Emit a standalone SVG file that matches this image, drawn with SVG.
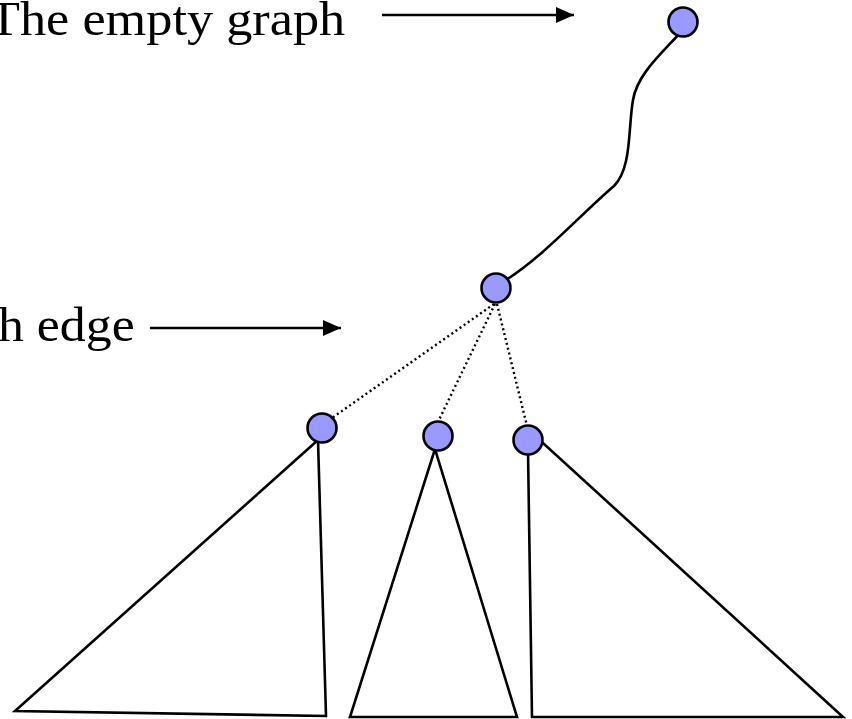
<svg xmlns="http://www.w3.org/2000/svg" width="852" height="719" viewBox="0 0 852 719">
<style>
.lbl{font-family:"Liberation Serif","Times New Roman",serif;font-size:48px;fill:#000}
.edge{fill:none;stroke:#000;stroke-width:2.6}
.dot{fill:none;stroke:#000;stroke-width:2.4;stroke-dasharray:2 3}
.tri{fill:none;stroke:#000;stroke-width:2.6;stroke-linejoin:miter}
.node{fill:#9999ff;stroke:#000;stroke-width:2.6}
</style>
<defs>
<marker id="ah" markerWidth="18" markerHeight="18" viewBox="0 0 18 18" refX="18" refY="9" orient="auto" markerUnits="userSpaceOnUse">
<path d="M0,1 L18,9 L0,17 Z" fill="#000"/>
</marker>
</defs>
<rect width="852" height="719" fill="#fff"/>
<g id="labels">
<text class="lbl" transform="translate(-12,35) scale(1.09,1)" x="0" y="0">The empty graph</text>
<text class="lbl" transform="translate(-2,341) scale(1.08,1)" x="0" y="0">h edge</text>
</g>
<g id="connectors">
<line class="edge" x1="382" y1="15" x2="574" y2="15" marker-end="url(#ah)"/>
<line class="edge" x1="150" y1="328" x2="341" y2="328" marker-end="url(#ah)"/>
<path class="edge" d="M681,32 C660,55 637,75 633,100 C628,128 632,168 614,186 C580,215 545,255 506,280"/>
<line class="dot" x1="494" y1="304" x2="332" y2="418"/>
<line class="dot" x1="495" y1="304" x2="438" y2="422"/>
<line class="dot" x1="497" y1="304" x2="527" y2="426"/>
</g>
<g id="subtrees">
<polygon id="tri-left" class="tri" points="318,440 15,711 326,716"/>
<polygon id="tri-mid" class="tri" points="435,449 350,717 517,717"/>
<polygon id="tri-right" class="tri" points="528,450 543,443 843,717 532,717"/>
</g>
<g id="n0"><circle class="node" cx="683" cy="22" r="14.5"/></g>
<g id="n1"><circle class="node" cx="496" cy="288" r="14.5"/></g>
<g id="n2"><circle class="node" cx="322" cy="428" r="14.5"/></g>
<g id="n3"><circle class="node" cx="438" cy="436" r="14.5"/></g>
<g id="n4"><circle class="node" cx="528" cy="440" r="14.5"/></g>
</svg>
